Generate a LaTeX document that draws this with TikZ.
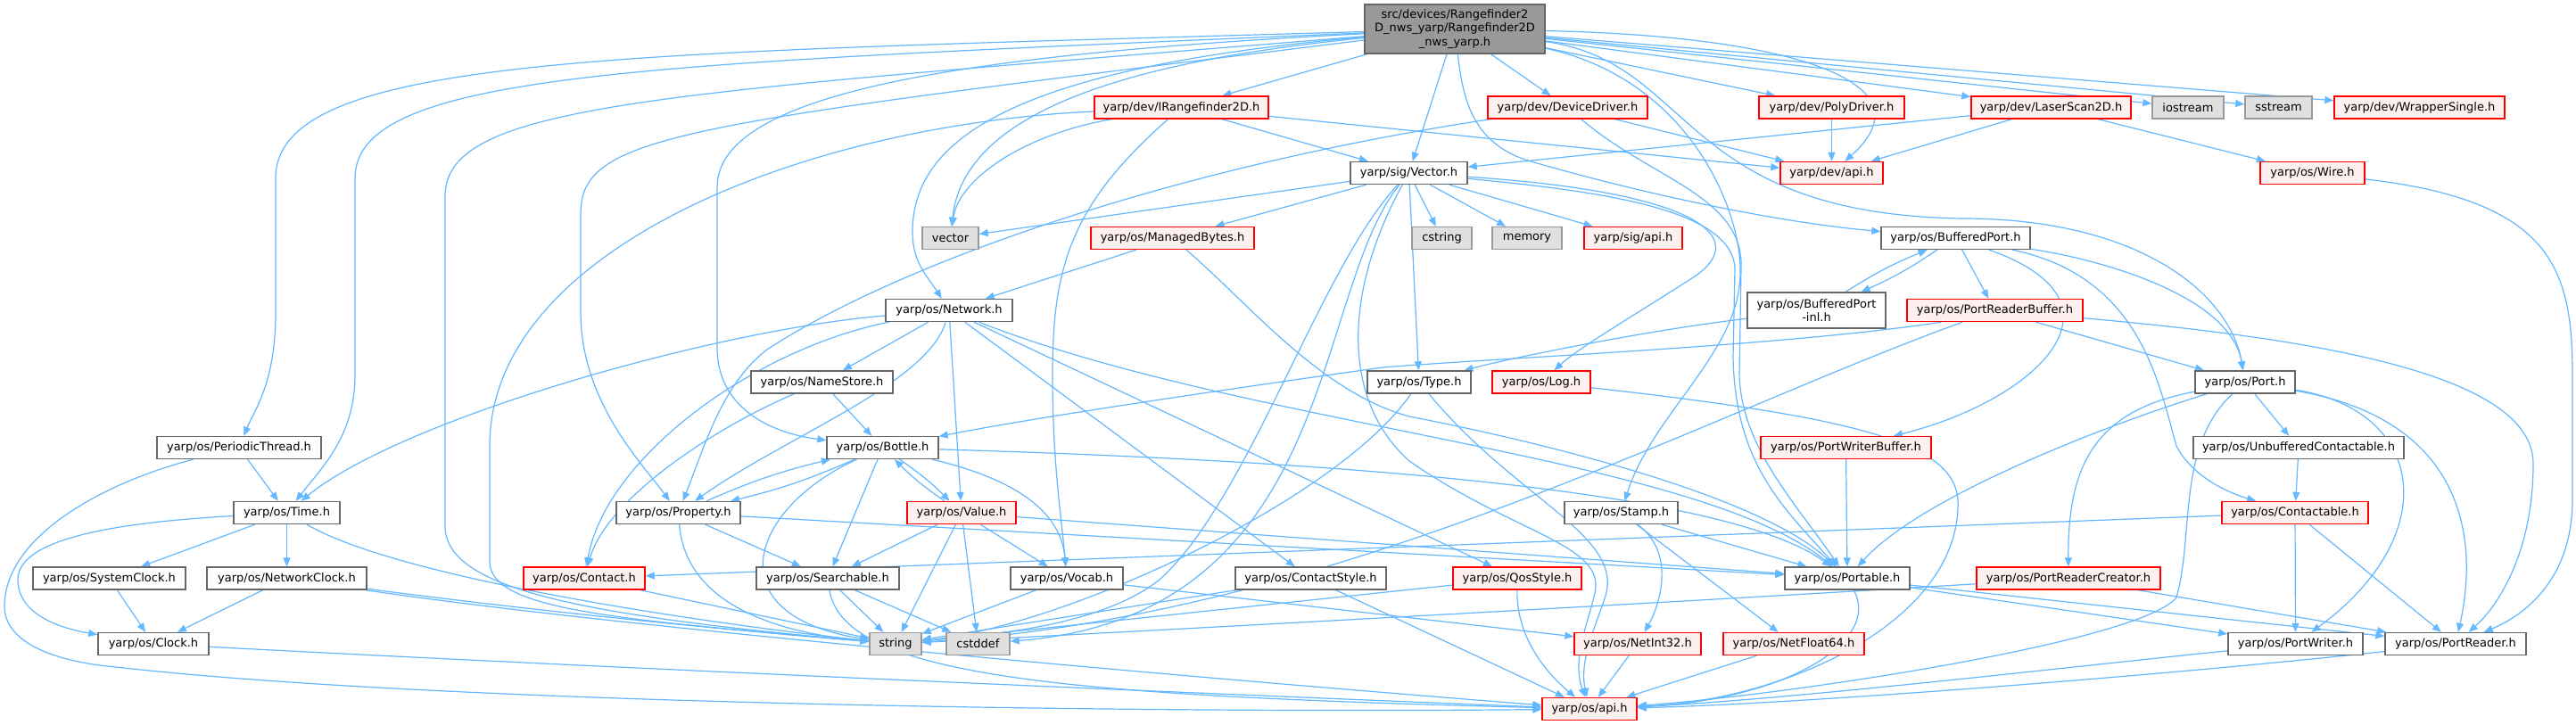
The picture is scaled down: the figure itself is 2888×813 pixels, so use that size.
\documentclass[tikz,border=0pt]{standalone}
\usepackage{fontspec}
\setmainfont{DejaVu Sans}
\usetikzlibrary{arrows.meta}
\definecolor{ec}{HTML}{63B8FF}
\definecolor{bgray}{HTML}{666666}
\definecolor{redfill}{HTML}{FFF0F0}
\definecolor{gfill}{HTML}{E0E0E0}
\definecolor{gborder}{HTML}{999999}
\definecolor{mainfill}{HTML}{999999}
\pgfdeclarelayer{bg}
\pgfsetlayers{bg,main}
\begin{document}
\begin{tikzpicture}[x=1pt,y=-1pt,
 nd/.style={draw=bgray, fill=white, line width=1.4pt, inner sep=0pt, minimum height=25pt, font=\fontsize{13}{15.5}\selectfont},
 rd/.style={nd, draw=red, fill=redfill},
 gd/.style={nd, draw=gborder, fill=gfill},
 md/.style={nd, fill=mainfill, draw=bgray, align=center, minimum height=55pt},
 e/.style={draw=ec, line width=1.2pt, -{Triangle[length=10pt,width=8pt]}},
]
\useasboundingbox (0,0) rectangle (2888,813);
% nodes
\node[md, minimum width=202pt] (main) at (1631,32.5) {src/devices/Rangefinder2\\D\_nws\_yarp/Rangefinder2D\\\_nws\_yarp.h};
\node[rd, minimum width=195pt] (ir) at (1324.5,120.5) {yarp/dev/IRangefinder2D.h};
\node[rd, minimum width=179pt] (dd) at (1757.5,120.5) {yarp/dev/DeviceDriver.h};
\node[rd, minimum width=163pt] (pd) at (2053.5,120.5) {yarp/dev/PolyDriver.h};
\node[rd, minimum width=179pt] (ls) at (2299.5,120.5) {yarp/dev/LaserScan2D.h};
\node[gd, minimum width=80pt] (ios) at (2453,120.5) {iostream};
\node[gd, minimum width=75pt] (sst) at (2554.5,120.5) {sstream};
\node[rd, minimum width=191pt] (ws) at (2712.5,120.5) {yarp/dev/WrapperSingle.h};
\node[nd, minimum width=131pt] (vec) at (1579.5,194) {yarp/sig/Vector.h};
\node[rd, minimum width=115pt] (devapi) at (2053.5,194) {yarp/dev/api.h};
\node[rd, minimum width=117pt] (wire) at (2592.5,194) {yarp/os/Wire.h};
\node[gd, minimum width=63pt] (vector) at (1065.5,267) {vector};
\node[rd, minimum width=183pt] (mb) at (1314.5,267) {yarp/os/ManagedBytes.h};
\node[gd, minimum width=67pt] (cstring) at (1616.5,267) {cstring};
\node[gd, minimum width=78pt] (memory) at (1712,267) {memory};
\node[rd, minimum width=110pt] (sigapi) at (1831,267) {yarp/sig/api.h};
\node[nd, minimum width=167pt] (bp) at (2192.5,267) {yarp/os/BufferedPort.h};
\node[nd, minimum width=142pt] (net) at (1064,348) {yarp/os/Network.h};
\node[nd, minimum width=155pt, minimum height=40pt, align=center] (bpinl) at (2036.5,348) {yarp/os/BufferedPort\\-inl.h};
\node[rd, minimum width=197pt] (prb) at (2236.5,348) {yarp/os/PortReaderBuffer.h};
\node[nd, minimum width=159pt] (ns) at (921.5,428.5) {yarp/os/NameStore.h};
\node[nd, minimum width=116pt] (type) at (1591,428.5) {yarp/os/Type.h};
\node[rd, minimum width=110pt] (log) at (1728,428.5) {yarp/os/Log.h};
\node[nd, minimum width=112pt] (port) at (2517,428.5) {yarp/os/Port.h};
\node[nd, minimum width=184pt] (pt) at (268,502) {yarp/os/PeriodicThread.h};
\node[nd, minimum width=125pt] (bottle) at (989.5,502) {yarp/os/Bottle.h};
\node[rd, minimum width=191pt] (pwb) at (2069.5,502) {yarp/os/PortWriterBuffer.h};
\node[nd, minimum width=236pt] (uc) at (2577,502) {yarp/os/UnbufferedContactable.h};
\node[nd, minimum width=119pt] (time) at (321.5,575) {yarp/os/Time.h};
\node[nd, minimum width=139pt] (prop) at (760.5,575) {yarp/os/Property.h};
\node[rd, minimum width=122pt] (value) at (1078,575) {yarp/os/Value.h};
\node[nd, minimum width=127pt] (stamp) at (1817.5,575) {yarp/os/Stamp.h};
\node[rd, minimum width=164pt] (contactable) at (2573,575) {yarp/os/Contactable.h};
\node[nd, minimum width=171pt] (sc) at (122.5,648.5) {yarp/os/SystemClock.h};
\node[nd, minimum width=179pt] (nc) at (321.5,648.5) {yarp/os/NetworkClock.h};
\node[rd, minimum width=136pt] (contact) at (655,648.5) {yarp/os/Contact.h};
\node[nd, minimum width=160pt] (search) at (928,648.5) {yarp/os/Searchable.h};
\node[nd, minimum width=126pt] (vocab) at (1196,648.5) {yarp/os/Vocab.h};
\node[nd, minimum width=169pt] (cs) at (1469.5,648.5) {yarp/os/ContactStyle.h};
\node[rd, minimum width=144pt] (qos) at (1701,648.5) {yarp/os/QosStyle.h};
\node[nd, minimum width=140pt] (portable) at (2071,648.5) {yarp/os/Portable.h};
\node[rd, minimum width=206pt] (prc) at (2319,648.5) {yarp/os/PortReaderCreator.h};
\node[nd, minimum width=124pt] (clock) at (172,722) {yarp/os/Clock.h};
\node[gd, minimum width=58pt] (string) at (1004,722) {string};
\node[gd, minimum width=71pt] (cstddef) at (1096.5,722) {cstddef};
\node[rd, minimum width=142pt] (ni32) at (1836,722) {yarp/os/NetInt32.h};
\node[rd, minimum width=158pt] (nf64) at (2011,722) {yarp/os/NetFloat64.h};
\node[nd, minimum width=151pt] (pw) at (2573.5,722) {yarp/os/PortWriter.h};
\node[nd, minimum width=158pt] (pr) at (2753,722) {yarp/os/PortReader.h};
\node[rd, minimum width=106pt] (osapi) at (1782,795) {yarp/os/api.h};
\begin{pgfonlayer}{bg}
\fill[white] (0,0) rectangle (2888,813);
% main
\draw[e] (main) .. controls (700,60) and (309,60) .. (309,200) -- (309,350) .. controls (309,430) and (285,460) .. (pt);
\draw[e] (main) .. controls (720,72) and (398,80) .. (398,200) -- (398,420) .. controls (398,490) and (360,525) .. (time);
\draw[e] (main) .. controls (740,105) and (499,115) .. (499,220) -- (499,590) .. controls (499,660) and (650,690) .. (string);
\draw[e] (main) .. controls (760,140) and (651,150) .. (651,240) -- (651,350) .. controls (651,450) and (720,520) .. (prop);
\draw[e] (main) .. controls (1100,60) and (804,100) .. (804,210) -- (804,390) .. controls (804,455) and (860,485) .. (bottle);
\draw[e] (main) .. controls (1150,75) and (1023,150) .. (1023,260) .. controls (1023,295) and (1040,310) .. (net);
\draw[e] (main) .. controls (1250,70) and (1080,130) .. (vector);
\draw[e] (main) -- (ir);
\draw[e] (main) -- (dd);
\draw[e] (main) -- (vec);
\draw[e] (main) -- (pd);
\draw[e] (main) -- (ls);
\draw[e] (main) -- (ios);
\draw[e] (main) -- (sst);
\draw[e] (main) -- (ws);
\draw[e] (main) .. controls (2000,40) and (2170,90) .. (devapi);
\draw[e] (main) .. controls (1640,110) and (1650,160) .. (1713,180) .. controls (1850,220) and (2000,250) .. (bp);
\draw[e] (main) .. controls (1900,90) and (1960,250) .. (1950,320) .. controls (1942,400) and (1850,470) .. (stamp);
\draw[e] (main) .. controls (1900,70) and (1880,240) .. (2200,245) .. controls (2400,245) and (2500,330) .. (port);
% IRangefinder2D
\draw[e] (ir) .. controls (1150,150) and (1075,200) .. (vector);
\draw[e] (ir) -- (vec);
\draw[e] (ir) -- (devapi);
\draw[e] (ir) .. controls (900,140) and (549,280) .. (549,500) -- (549,630) .. controls (549,685) and (700,695) .. (string);
\draw[e] (ir) .. controls (1200,230) and (1180,300) .. (1180,420) .. controls (1180,520) and (1190,580) .. (vocab);
% DeviceDriver
\draw[e] (dd) -- (devapi);
\draw[e] (dd) .. controls (1300,190) and (1000,300) .. (860,392) .. controls (810,430) and (790,500) .. (prop);
\draw[e] (dd) .. controls (1850,200) and (1955,220) .. (1952,300) -- (1950,420) .. controls (1952,500) and (2010,560) .. (portable);
% PolyDriver, LaserScan2D, Wire
\draw[e] (pd) -- (devapi);
\draw[e] (ls) -- (vec);
\draw[e] (ls) -- (devapi);
\draw[e] (ls) -- (wire);
\draw[e] (wire) .. controls (2860,225) and (2884,300) .. (2884,420) -- (2884,560) .. controls (2884,650) and (2830,690) .. (pr);
% Vector
\draw[e] (vec) -- (vector);
\draw[e] (vec) -- (mb);
\draw[e] (vec) -- (cstring);
\draw[e] (vec) -- (memory);
\draw[e] (vec) -- (sigapi);
\draw[e] (vec) -- (type);
\draw[e] (vec) .. controls (1900,215) and (1965,265) .. (1900,310) .. controls (1830,355) and (1770,390) .. (log);
\draw[e] (vec) .. controls (1800,215) and (1940,235) .. (1945,300) -- (1943,400) .. controls (1945,520) and (2000,570) .. (portable);
\draw[e] (vec) .. controls (1480,300) and (1400,560) .. (1300,650) .. controls (1230,705) and (1100,712) .. (string);
\draw[e] (vec) .. controls (1505,330) and (1505,450) .. (1580,517) .. controls (1700,600) and (1800,610) .. (1788,665) .. controls (1780,700) and (1762,740) .. (osapi);
\draw[e] (vec) .. controls (1470,330) and (1500,690) .. (cstddef);
% ManagedBytes
\draw[e] (mb) -- (net);
\draw[e] (mb) .. controls (1400,340) and (1480,440) .. (1580,467) .. controls (1750,500) and (1980,560) .. (portable);
% Network
\draw[e] (net) .. controls (800,370) and (450,470) .. (time);
\draw[e] (net) .. controls (850,390) and (680,510) .. (contact);
\draw[e] (net) -- (ns);
\draw[e] (net) .. controls (1040,430) and (880,490) .. (prop);
\draw[e] (net) -- (value);
\draw[e] (net) -- (cs);
\draw[e] (net) -- (qos);
\draw[e] (net) .. controls (1400,480) and (1900,510) .. (portable);
% NameStore
\draw[e] (ns) -- (bottle);
\draw[e] (ns) .. controls (800,480) and (680,560) .. (contact);
% Bottle
\draw[e] (bottle) to[bend left=5] (prop);
\draw[e] (prop) to[bend left=5] (bottle);
\draw[e] (bottle) to[bend left=5] (value);
\draw[e] (value) to[bend left=5] (bottle);
\draw[e] (bottle) -- (search);
\draw[e] (bottle) .. controls (1150,540) and (1190,580) .. (vocab);
\draw[e] (bottle) .. controls (1600,520) and (1950,560) .. (portable);
\draw[e] (bottle) .. controls (840,570) and (800,690) .. (string);
% Property
\draw[e] (prop) -- (search);
\draw[e] (prop) .. controls (770,690) and (900,712) .. (string);
\draw[e] (prop) -- (portable);
% Value
\draw[e] (value) -- (search);
\draw[e] (value) -- (vocab);
\draw[e] (value) -- (string);
\draw[e] (value) -- (cstddef);
\draw[e] (value) -- (portable);
% Searchable, Vocab
\draw[e] (search) -- (string);
\draw[e] (search) -- (cstddef);
\draw[e] (search) .. controls (945,760) and (1200,780) .. (osapi);
\draw[e] (vocab) -- (string);
\draw[e] (vocab) -- (ni32);
% Contact, styles
\draw[e] (contact) -- (string);
\draw[e] (cs) -- (string);
\draw[e] (cs) -- (osapi);
\draw[e] (qos) -- (string);
\draw[e] (qos) .. controls (1700,720) and (1740,760) .. (osapi);
% Time cluster
\draw[e] (pt) -- (time);
\draw[e] (pt) .. controls (120,540) and (5,600) .. (5,680) .. controls (5,720) and (60,742) .. (130,748) .. controls (500,790) and (1300,800) .. (osapi);
\draw[e] (time) -- (sc);
\draw[e] (time) -- (nc);
\draw[e] (time) .. controls (150,585) and (20,600) .. (20,650) .. controls (20,690) and (70,705) .. (clock);
\draw[e] (time) .. controls (450,650) and (800,700) .. (string);
\draw[e] (sc) -- (clock);
\draw[e] (nc) -- (clock);
\draw[e] (nc) .. controls (600,685) and (800,705) .. (string);
\draw[e] (nc) .. controls (700,705) and (1400,765) .. (osapi);
\draw[e] (clock) .. controls (700,750) and (1400,780) .. (osapi);
% Type, Log, Stamp
\draw[e] (type) .. controls (1500,560) and (1200,700) .. (string);
\draw[e] (type) .. controls (1700,560) and (1820,600) .. (1800,668) .. controls (1790,700) and (1770,740) .. (osapi);
\draw[e] (log) .. controls (2100,470) and (2200,500) .. (2195,570) .. controls (2190,700) and (2000,785) .. (osapi);
\draw[e] (stamp) -- (portable);
\draw[e] (stamp) .. controls (1880,620) and (1860,680) .. (ni32);
\draw[e] (stamp) -- (nf64);
% Portable
\draw[e] (portable) .. controls (2110,720) and (2000,785) .. (osapi);
\draw[e] (portable) -- (pw);
\draw[e] (portable) -- (pr);
\draw[e] (ni32) -- (osapi);
\draw[e] (nf64) -- (osapi);
\draw[e] (pwb) -- (portable);
% BufferedPort
\draw[e] (bp) to[bend left=5] (bpinl);
\draw[e] (bpinl) to[bend left=5] (bp);
\draw[e] (bp) -- (prb);
\draw[e] (bp) .. controls (2350,290) and (2500,330) .. (port);
\draw[e] (bp) .. controls (2400,340) and (2280,450) .. (pwb);
\draw[e] (bp) .. controls (2400,310) and (2420,430) .. (2440,500) .. controls (2455,530) and (2490,550) .. (contactable);
\draw[e] (bpinl) .. controls (1850,370) and (1700,400) .. (type);
% PortReaderBuffer
\draw[e] ([xshift=-60pt]prb.south) .. controls (2000,388) and (1700,400) .. (1550,412) .. controls (1350,440) and (1150,470) .. (bottle);
\draw[e] (prb) -- (port);
\draw[e] (prb) .. controls (2600,380) and (2840,420) .. (2840,520) .. controls (2840,620) and (2800,680) .. (pr);
\draw[e] (prb) .. controls (1900,470) and (1500,690) .. (string);
% Port
\draw[e] (port) -- (uc);
\draw[e] (port) .. controls (2350,460) and (2318,520) .. (prc);
\draw[e] (port) .. controls (2350,480) and (2150,560) .. (portable);
\draw[e] (port) .. controls (2440,500) and (2460,600) .. (2440,670) .. controls (2400,720) and (2000,780) .. (osapi);
\draw[e] (port) .. controls (2720,460) and (2740,600) .. (pw);
\draw[e] (port) .. controls (2760,470) and (2780,600) .. (pr);
\draw[e] (uc) -- (contactable);
\draw[e] (contactable) -- (contact);
\draw[e] (contactable) -- (pw);
\draw[e] (contactable) -- (pr);
\draw[e] (prc) -- (pr);
\draw[e] (prc) .. controls (1800,680) and (1200,712) .. (string);
\draw[e] (pw) .. controls (2300,750) and (2000,785) .. (osapi);
\draw[e] (pr) .. controls (2400,760) and (2000,790) .. (osapi);
\end{pgfonlayer}
\end{tikzpicture}
\end{document}
